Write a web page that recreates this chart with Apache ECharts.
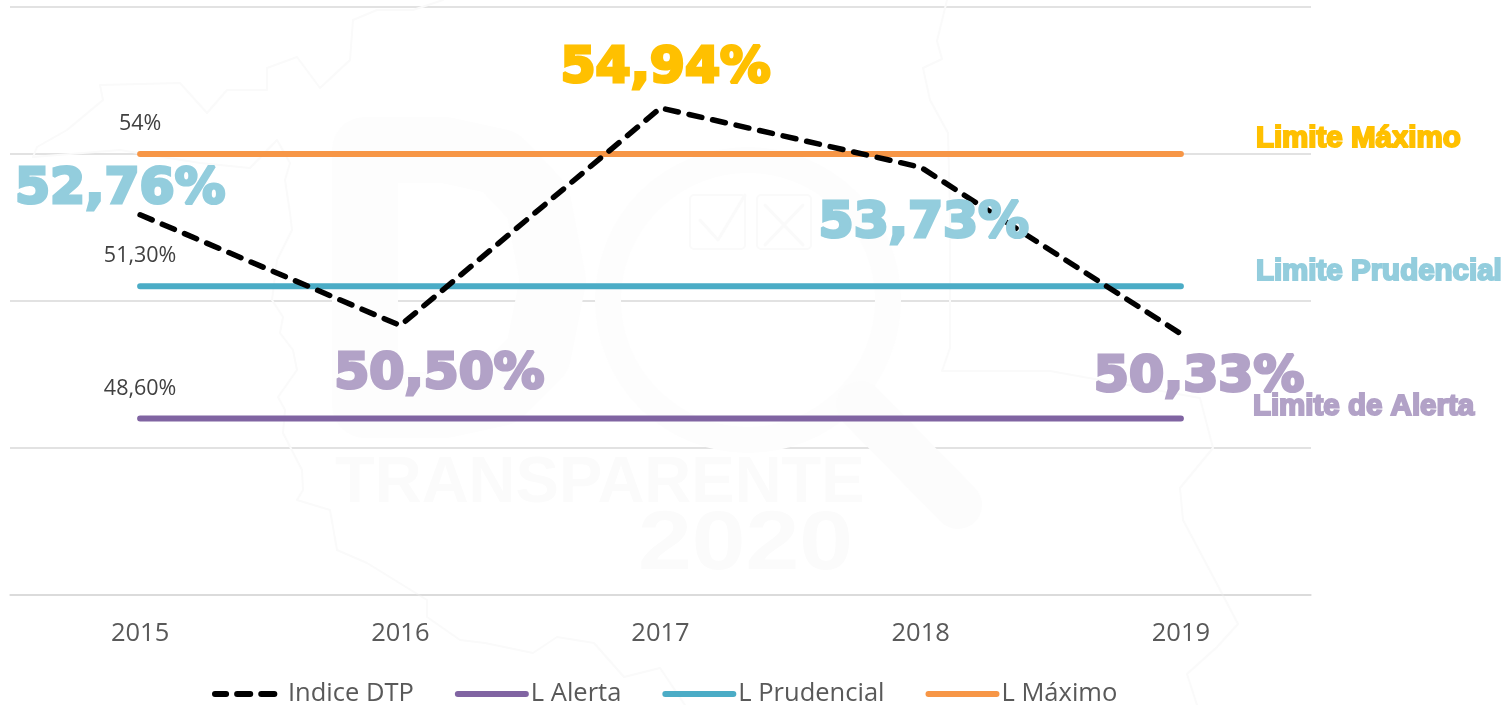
<!DOCTYPE html>
<html><head><meta charset="utf-8">
<style>html,body{margin:0;padding:0;background:#fff}#c{width:1509px;height:705px}</style>
<script src="https://cdn.jsdelivr.net/npm/echarts@6/dist/echarts.min.js"></script>
</head><body><div id="c"></div>
<script>
const categories = ['2015','2016','2017','2018','2019'];
const indiceDTP = [52.76, 50.50, 54.94, 53.73, 50.33];
const lAlerta = [48.6, 48.6, 48.6, 48.6, 48.6];
const lPrudencial = [51.3, 51.3, 51.3, 51.3, 51.3];
const lMaximo = [54, 54, 54, 54, 54];
const indiceLabels = ['52,76%','50,50%','54,94%','53,73%','50,33%'];
const limitLabels = ['48,60%','51,30%','54%'];

const TEAL='#93CDDD', PURPLE='#B2A2C7', GOLD='#FFC000';
const indiceStyle = [
  {c:TEAL, o:[-20,-24]},{c:PURPLE, o:[39,50]},{c:GOLD, o:[5,-39]},{c:TEAL, o:[3,57]},{c:PURPLE, o:[18,44]}
];
const chart = echarts.init(document.getElementById('c'),null,{renderer:'canvas'});

function limitSeries(name,values,color){
  return {name,type:'line',data:values,symbol:'none',silent:true,animation:false,
    lineStyle:{color,width:6,cap:'round'},itemStyle:{color},z:2};
}
chart.setOption({
  backgroundColor:'#fff',animation:false,tooltip:{show:false},
  grid:{left:10,right:198,top:7,bottom:110,containLabel:false},
  xAxis:{type:'category',data:categories,boundaryGap:true,
    axisLine:{show:true,lineStyle:{color:'#D9D9D9',width:1.5}},axisTick:{show:false},
    axisLabel:{color:'#595959',fontFamily:'Open Sans',fontSize:25.5,margin:26}},
  yAxis:{type:'value',min:45,max:57,interval:3,axisLabel:{show:false},axisLine:{show:false},axisTick:{show:false},
    splitLine:{lineStyle:{color:'#D9D9D9',width:1.5}}},
  legend:{left:207,top:676,itemWidth:68,itemHeight:6,itemGap:41,
    lineStyle:{width:6,cap:'round'},
    textStyle:{color:'#595959',fontFamily:'Open Sans',fontSize:25.5},
    data:[{name:'Indice DTP',lineStyle:{dashOffset:2}},'L Alerta','L Prudencial','L Máximo']},
  series:[
    {name:'Indice DTP',type:'line',data:indiceDTP,symbol:'none',silent:true,animation:false,
     lineStyle:{color:'#000',width:5.5,type:[13.1,11.02],cap:'round',join:'round'},itemStyle:{color:'#000'},z:5},
    limitSeries('L Alerta',lAlerta,'#8064A2'),
    limitSeries('L Prudencial',lPrudencial,'#4BACC6'),
    limitSeries('L Máximo',lMaximo,'#F79646')
  ]
});
const last = categories[categories.length-1];
const toPx = (cat,val)=>chart.convertToPixel({xAxisIndex:0,yAxisIndex:0},[cat,val]);
function limitText(text,val,fill,dy,dx){
  const p = toPx(last,val);
  return {type:'text',x:p[0]+dx,y:p[1]+dy,silent:true,z:20,
    style:{text,fill,stroke:fill,lineWidth:2,fontFamily:'Liberation Sans',fontWeight:'bold',fontSize:29.5,textAlign:'left',textVerticalAlign:'middle'}};
}
function bigLabel(i){
  const p = toPx(categories[i],indiceDTP[i]), s = indiceStyle[i];
  return {type:'text',x:p[0]+s.o[0],y:p[1]+s.o[1],scaleX:1.03,silent:true,z:15,
    style:{text:indiceLabels[i],fill:s.c,stroke:s.c,lineWidth:3,lineJoin:'round',fontFamily:'DejaVu Sans',fontWeight:'bold',fontSize:49,textAlign:'center',textVerticalAlign:'middle'}};
}
function smallLabel(val,text){
  const p = toPx(categories[0],val);
  return {type:'text',x:p[0],y:p[1]-30,silent:true,z:15,
    style:{text,fill:'#404040',fontFamily:'Open Sans',fontSize:21.5,textAlign:'center',textVerticalAlign:'middle'}};
}
const WM='#FBFBFB', WL='#FAFAFA';
function wmLine(points,w,c){return {type:'polyline',silent:true,z:0,shape:{points},style:{stroke:c||WL,lineWidth:w||2,fill:null,lineJoin:'round',lineCap:'round'}};}
const mapOutline=[[33,157],[37,147],[67,130],[103,100],[100,85],[180,83],[207,113],[227,90],[267,90],[267,68],[297,57],[320,88],[350,60],[353,20],[377,10],[413,10],[443,0]];
const mapInner=[[33,157],[120,150],[200,163],[250,168],[277,140],[290,163],[285,180],[290,213],[292,230],[277,260],[272,300],[283,317],[280,333],[293,350],[297,370],[278,397],[285,410],[283,433],[302,470],[303,490],[297,500],[330,510],[337,550],[367,563],[427,600],[427,617],[460,640],[485,643],[533,653],[557,637],[594,643],[624,677],[660,668],[685,705]];
const mapRight=[[947,0],[937,41],[942,59],[923,68],[930,100],[948,133],[950,210],[950,348],[942,371],[1050,371],[1200,398],[1213,448],[1180,488],[1183,520],[1217,584],[1238,624],[1217,647],[1187,674],[1197,705]];
const dShape=[[365,150],[445,150],[500,162],[538,202],[553,280],[538,355],[500,393],[445,405],[365,405],[365,150]];
chart.setOption({graphic:[
  wmLine(mapOutline),wmLine(mapInner),wmLine(mapRight),
  wmLine(dShape,66,'#FDFDFD'),
  {type:'circle',silent:true,z:0,shape:{cx:748,cy:300,r:140},style:{fill:null,stroke:'#FDFDFD',lineWidth:26}},
  wmLine([[860,405],[958,505]],48,'#FCFCFC'),
  {type:'rect',silent:true,z:0,shape:{x:690,y:195,width:55,height:54,r:4},style:{fill:null,stroke:WL,lineWidth:2}},
  {type:'rect',silent:true,z:0,shape:{x:757,y:195,width:54,height:54,r:4},style:{fill:null,stroke:WL,lineWidth:2}},
  wmLine([[700,220],[718,240],[745,195]],3),wmLine([[765,205],[803,245]],3),wmLine([[803,205],[765,245]],3),
  {type:'text',x:335,y:484,silent:true,z:0,style:{text:'TRANSPARENTE',fill:WM,fontFamily:'Liberation Sans',fontWeight:'bold',fontSize:65,textVerticalAlign:'middle'}},
  {type:'text',x:638,y:546,scaleX:1.15,silent:true,z:0,style:{text:'2020',fill:WM,fontFamily:'Liberation Sans',fontWeight:'bold',fontSize:84,textVerticalAlign:'middle'}},
  smallLabel(lAlerta[0],limitLabels[0]),smallLabel(lPrudencial[0],limitLabels[1]),smallLabel(lMaximo[0],limitLabels[2]),
  ...indiceDTP.map((v,i)=>bigLabel(i)),
  limitText('Limite Máximo',lMaximo[4],GOLD,-15,75),
  limitText('Limite Prudencial',lPrudencial[4],TEAL,-14,75),
  limitText('Limite de Alerta',lAlerta[4],PURPLE,-12,72)
]});
</script></body></html>
